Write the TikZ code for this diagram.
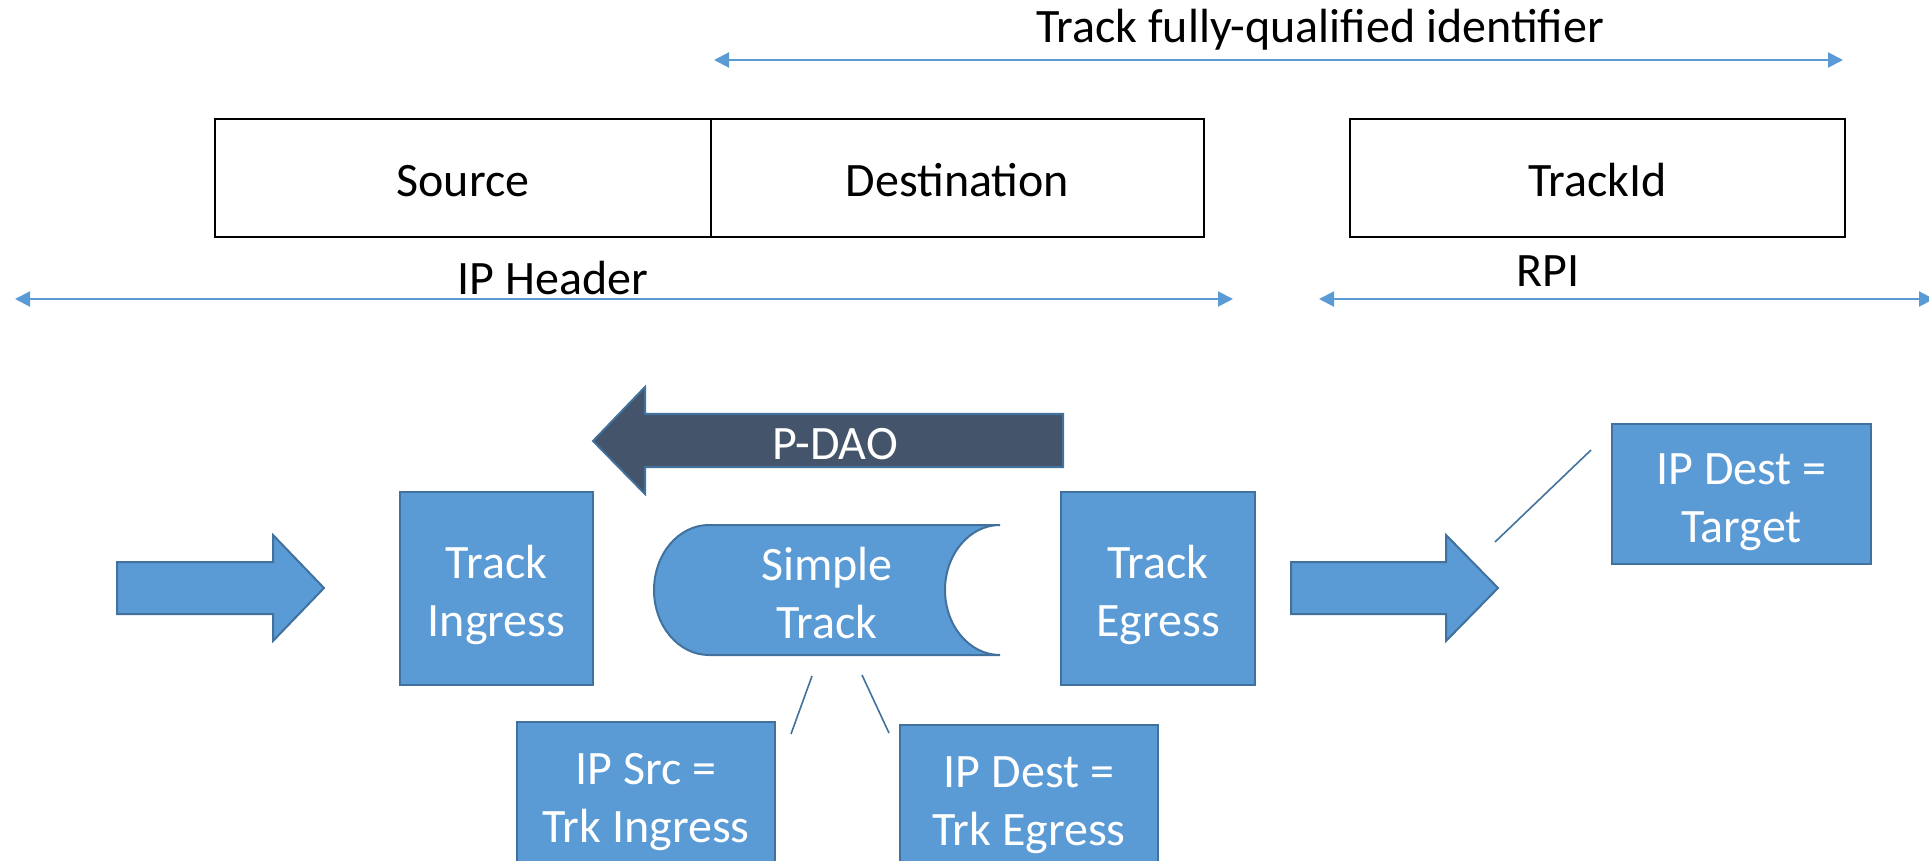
\documentclass[tikz,border=0pt]{standalone}
\usepackage{fontspec}
\setmainfont{Carlito}
\definecolor{boxblue}{RGB}{91,155,213}
\definecolor{edgeblue}{RGB}{65,113,156}
\definecolor{daogrey}{RGB}{68,84,106}
\usetikzlibrary{arrows.meta}
\begin{document}
\begin{tikzpicture}[x=0.5pt, y=-0.5pt,
  lbl/.style={font=\fontsize{24}{29}\selectfont, inner sep=0pt},
  field/.style={draw=black, line width=1pt, minimum height=59pt, text height=19pt, text depth=0pt, font=\fontsize{24}{29}\selectfont},
  bbox/.style={draw=edgeblue, fill=boxblue, line width=1pt, text=white, align=center, text height=48pt, text depth=0pt, font=\fontsize{24}{29}\selectfont},
  dimline/.style={draw=boxblue, line width=1pt, {Triangle[length=7.5pt,width=7.5pt]}-{Triangle[length=7.5pt,width=7.5pt]}},
  blockarrow/.style={draw=edgeblue, fill=boxblue, line width=1pt},
  callout/.style={draw=edgeblue, line width=0.8pt}
]
  \clip (0,0) rectangle (1929,861);

  \node[lbl, anchor=base] (fqid) at (1320,43) {Track fully-qualified identifier};
  \coordinate (fqidL) at (714,60);
  \coordinate (fqidR) at (1843,60);
  \draw[dimline] (fqidL) -- (fqidR);

  \node[field, minimum width=248pt] (source) at (463,178) {Source};
  \node[field, minimum width=246.5pt] (dest) at (957.5,178) {Destination};
  \node[field, minimum width=247.5pt] (trackid) at (1597.5,178) {TrackId};

  \node[lbl, anchor=base] (iphdr) at (553,295) {IP Header};
  \coordinate (iphdrL) at (15,299);
  \coordinate (iphdrR) at (1233,299);
  \draw[dimline] (iphdrL) -- (iphdrR);

  \node[lbl, anchor=base] (rpi) at (1548,287) {RPI};
  \coordinate (rpiL) at (1319,299);
  \coordinate (rpiR) at (1934,299);
  \draw[dimline] (rpiL) -- (rpiR);

  \draw[blockarrow, fill=daogrey] (1063,414) -- (645,414) -- (645,387) -- (593,441) -- (645,494) -- (645,467) -- (1063,467) -- cycle;
  \node[lbl, text=white] (pdao) at (835,444) {P-DAO};

  \draw[blockarrow] (117,562) -- (273,562) -- (273,535) -- (324,588) -- (273,641) -- (273,614) -- (117,614) -- cycle;
  \draw[blockarrow] (1291,562) -- (1446,562) -- (1446,535) -- (1498,588) -- (1446,641) -- (1446,614) -- (1291,614) -- cycle;

  \node[bbox, minimum width=96.5pt, minimum height=96.5pt] (ingress) at (496.5,588.5) {Track\\Ingress};
  \node[bbox, minimum width=97pt, minimum height=96.5pt] (egress) at (1158,588.5) {Track\\Egress};

  \draw[blockarrow] (709,525) -- (1000,525) arc[start angle=270, end angle=90, x radius=55, y radius=65]
    -- (709,655) arc[start angle=90, end angle=270, x radius=55, y radius=65] -- cycle;
  \node[bbox, draw=none, fill=none] (simple) at (827,590) {Simple\\Track};

  \node[bbox, minimum width=129.5pt, minimum height=70pt] (target) at (1741.5,494) {IP Dest =\\Target};
  \node[bbox, minimum width=129pt, minimum height=72pt] (ipsrc) at (646,794) {IP Src =\\Trk Ingress};
  \node[bbox, minimum width=129pt, minimum height=72pt] (ipdst) at (1029,797) {IP Dest =\\Trk Egress};

  \coordinate (srcA) at (812,676);
  \coordinate (srcB) at (791,734);
  \coordinate (dstA) at (862,675);
  \coordinate (dstB) at (889,733);
  \coordinate (tgtA) at (1495,542);
  \coordinate (tgtB) at (1591,450);
  \draw[callout] (srcA) -- (srcB);
  \draw[callout] (dstA) -- (dstB);
  \draw[callout] (tgtA) -- (tgtB);
\end{tikzpicture}
\end{document}
